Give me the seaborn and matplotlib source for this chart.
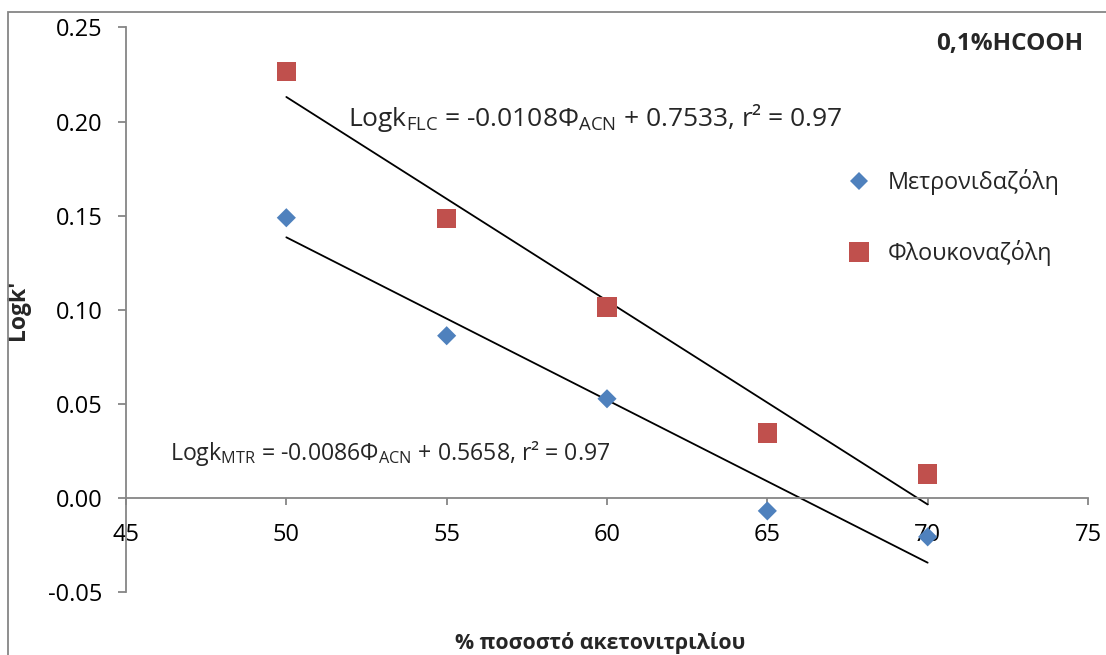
import numpy as np
import pandas as pd
import seaborn as sns
import matplotlib
matplotlib.use("Agg")
import matplotlib.pyplot as plt
from matplotlib.lines import Line2D
from matplotlib.patches import Rectangle

# ---- data ----
acn = [50, 55, 60, 65, 70]
logk_mtr = [0.1489, 0.0862, 0.0527, -0.0069, -0.0207]
logk_flc = [0.2266, 0.1484, 0.1016, 0.0346, 0.0128]
series_names = ["Μετρονιδαζόλη", "Φλουκοναζόλη"]
x_ticks = [45, 50, 55, 60, 65, 70, 75]
y_ticks = [-0.05, 0.00, 0.05, 0.10, 0.15, 0.20, 0.25]
eq_flc = r"Logk$_{\mathrm{FLC}}$ = -0.0108Φ$_{\mathrm{ACN}}$ + 0.7533, r² = 0.97"
eq_mtr = r"Logk$_{\mathrm{MTR}}$ = -0.0086Φ$_{\mathrm{ACN}}$ + 0.5658, r² = 0.97"
title = "0,1%HCOOH"
xlabel = "% ποσοστό ακετονιτριλίου"
ylabel = "Logk'"

sns.set_theme(style="white")
plt.rcParams["font.family"] = ["Open Sans", "DejaVu Sans"]
plt.rcParams["mathtext.fontset"] = "custom"
plt.rcParams["mathtext.rm"] = "Open Sans"
plt.rcParams["mathtext.it"] = "Open Sans:italic"
plt.rcParams["mathtext.bf"] = "Open Sans:bold"
plt.rcParams["axes.unicode_minus"] = False

blue = "#4F81BD"
red = "#C0504D"
gray = "#868686"

W, H = 1106, 655
fig = plt.figure(figsize=(W / 100, H / 100), dpi=100)
ax = fig.add_axes([126 / W, 1 - 592 / H, (1088 - 126) / W, (592 - 27.5) / H])

df = pd.DataFrame({"acn": acn, "mtr": logk_mtr, "flc": logk_flc})

sns.regplot(data=df, x="acn", y="mtr", ax=ax, ci=None, marker="D",
            scatter_kws=dict(s=95, color=blue, edgecolor="none", alpha=1, zorder=3),
            line_kws=dict(color="black", lw=1.3, zorder=2))
sns.regplot(data=df, x="acn", y="flc", ax=ax, ci=None, marker="s",
            scatter_kws=dict(s=200, color=red, edgecolor="none", alpha=1, zorder=3),
            line_kws=dict(color="black", lw=1.3, zorder=2))

ax.set_xlim(45, 75)
ax.set_ylim(-0.05, 0.25)
ax.set_xticks(x_ticks)
ax.set_yticks(y_ticks)
ax.set_xticklabels([str(t) for t in x_ticks])
ax.set_yticklabels([f"{t:.2f}" for t in y_ticks])

for s in ["top", "right"]:
    ax.spines[s].set_visible(False)
ax.spines["bottom"].set_position(("data", 0))
for s in ["left", "bottom"]:
    ax.spines[s].set_color(gray)
    ax.spines[s].set_linewidth(1.3)

ax.tick_params(axis="both", which="major", direction="out", color=gray,
               width=1.3, labelsize=17, labelcolor="black")
ax.tick_params(axis="y", length=6, pad=11, left=True)
ax.tick_params(axis="x", length=5, pad=13, bottom=True)

ax.set_xlabel(xlabel, fontsize=15.3, fontweight="bold")
ax.set_ylabel(ylabel, fontsize=16.5, fontweight="bold")
ax.xaxis.set_label_coords(0.493, -0.071)
ax.yaxis.set_label_coords(-0.1, 0.5)

fig.text(1083 / W, 1 - 50 / H, title, ha="right", va="baseline",
         fontsize=17.5, fontweight="bold")
fig.text(348 / W, 1 - 126 / H, eq_flc, ha="left", va="baseline", fontsize=19)
fig.text(170 / W, 1 - 460 / H, eq_mtr, ha="left", va="baseline", fontsize=16.7)

handles = [
    Line2D([], [], marker="D", linestyle="none", color=blue, markersize=9.5, markeredgewidth=0),
    Line2D([], [], marker="s", linestyle="none", color=red, markersize=14, markeredgewidth=0),
]
ax.legend(handles, series_names, loc="upper left",
          bbox_to_anchor=(847 / W, 1 - 169 / H), bbox_transform=fig.transFigure,
          frameon=False, fontsize=16.8, labelspacing=1.93, handlelength=1.0,
          handletextpad=0.75, borderpad=0, borderaxespad=0)

fig.patches.append(Rectangle((8 / W, -0.01), 1.1, 1 - 11.5 / H + 0.01,
                             transform=fig.transFigure, fill=False,
                             edgecolor=gray, lw=1.3, zorder=0))

fig.savefig("out.png", dpi=100)
